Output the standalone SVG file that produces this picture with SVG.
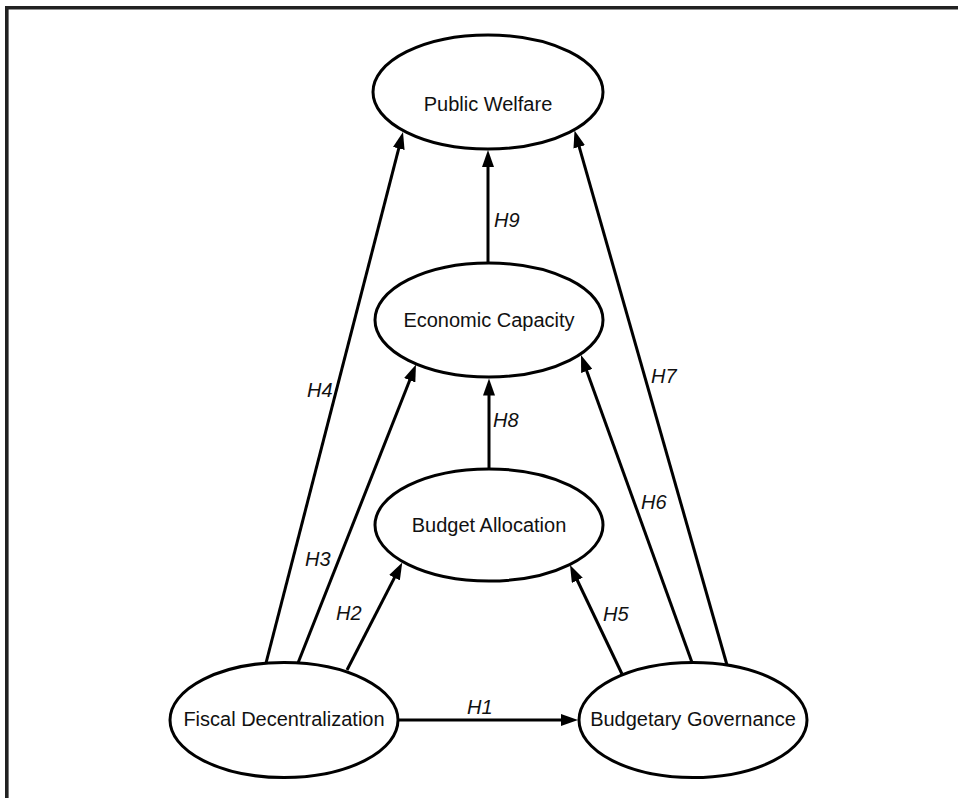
<svg xmlns="http://www.w3.org/2000/svg" width="958" height="798" viewBox="0 0 958 798">
<style>
.node ellipse{fill:#fff;stroke:#000;stroke-width:3}
.node text{font-family:"Liberation Sans",Arial,sans-serif;font-size:20px;fill:#111;text-anchor:middle}
.edge line{stroke:#000;stroke-width:3;marker-end:url(#arr)}
.lbl{font-family:"Liberation Sans",Arial,sans-serif;font-size:20px;font-style:italic;fill:#111}
</style>
<defs>
<marker id="arr" markerUnits="userSpaceOnUse" markerWidth="18" markerHeight="12" refX="7" refY="6" orient="auto">
<path d="M0,0 L17,6 L0,12 z" fill="#000"/>
</marker>
</defs>
<rect width="958" height="798" fill="#fff"/>
<path d="M6.8,798 V7.8 H958" fill="none" stroke="#222" stroke-width="3.6"/>
<g id="public-welfare" class="node"><ellipse cx="488" cy="92" rx="115" ry="57"/><text x="488" y="111">Public Welfare</text></g>
<g id="economic-capacity" class="node"><ellipse cx="489" cy="320" rx="114" ry="57"/><text x="489" y="327">Economic Capacity</text></g>
<g id="budget-allocation" class="node"><ellipse cx="489" cy="525" rx="114" ry="56"/><text x="489" y="532">Budget Allocation</text></g>
<g id="fiscal-decentralization" class="node"><ellipse cx="284" cy="720" rx="114" ry="57.5"/><text x="284" y="726">Fiscal Decentralization</text></g>
<g id="budgetary-governance" class="node"><ellipse cx="693" cy="720" rx="114" ry="57.5"/><text x="693" y="726">Budgetary Governance</text></g>
<g id="connectors" class="edge">
<line x1="398" y1="720" x2="568" y2="720"/>
<line x1="488" y1="263" x2="488" y2="160"/>
<line x1="489" y1="469" x2="489" y2="388.5"/>
<line x1="266" y1="663" x2="400.5" y2="141.7"/>
<line x1="298" y1="663" x2="412.3" y2="373.8"/>
<line x1="347" y1="670" x2="397.7" y2="571.4"/>
<line x1="622" y1="674" x2="574.3" y2="574"/>
<line x1="692" y1="662.5" x2="584.4" y2="364.4"/>
<line x1="727" y1="665" x2="577.3" y2="140.2"/>
</g>
<g id="labels">
<text class="lbl" x="467" y="714">H1</text>
<text class="lbl" x="336" y="620">H2</text>
<text class="lbl" x="305" y="566">H3</text>
<text class="lbl" x="307" y="397">H4</text>
<text class="lbl" x="603" y="621">H5</text>
<text class="lbl" x="641" y="509">H6</text>
<text class="lbl" x="651" y="383">H7</text>
<text class="lbl" x="493" y="427">H8</text>
<text class="lbl" x="494" y="227">H9</text>
</g>
</svg>
